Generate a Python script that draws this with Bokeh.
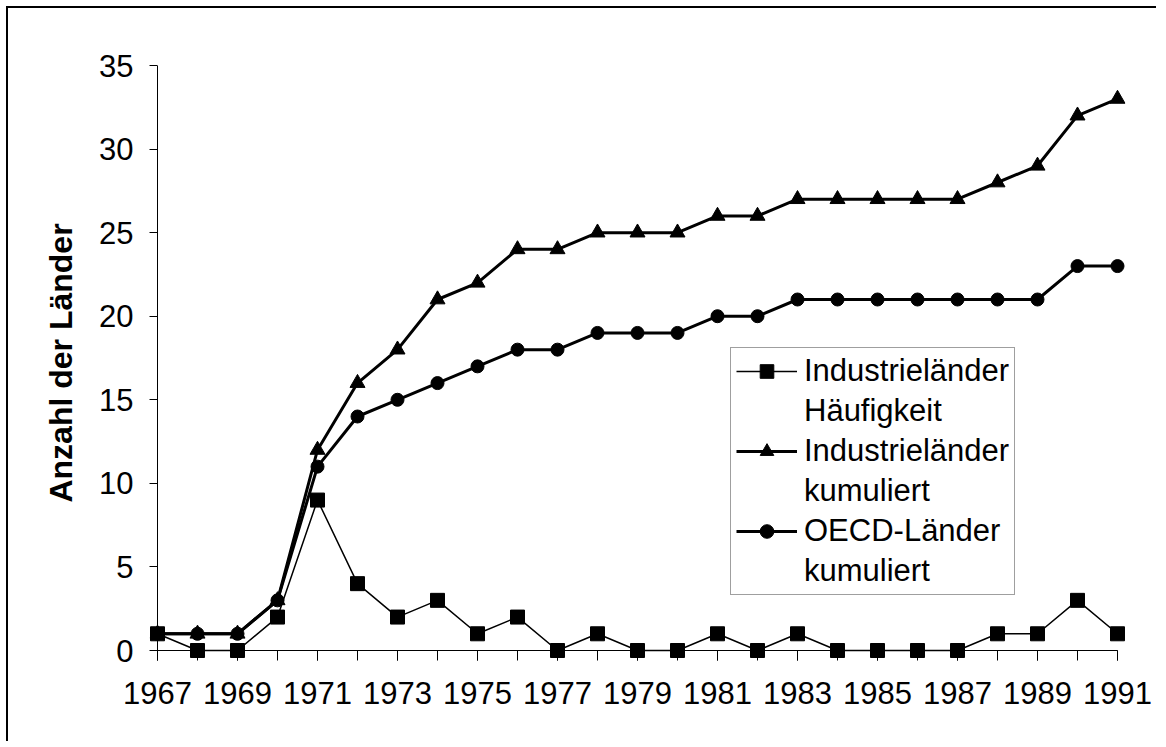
from bokeh.plotting import figure
from bokeh.models import Range1d, FixedTicker, Span, Legend, LegendItem
from bokeh.embed import file_html
from bokeh.resources import INLINE

# ---- data ----
years = list(range(1967, 1992))
haeufigkeit = [1, 0, 0, 2, 9, 4, 2, 3, 1, 2, 0, 1, 0, 0, 1, 0, 1, 0, 0, 0, 0, 1, 1, 3, 1]
industrie_kumuliert = [1, 1, 1, 3, 12, 16, 18, 21, 22, 24, 24, 25, 25, 25, 26, 26, 27, 27, 27, 27, 27, 28, 29, 32, 33]
oecd_kumuliert = [1, 1, 1, 3, 11, 14, 15, 16, 17, 18, 18, 19, 19, 19, 20, 20, 21, 21, 21, 21, 21, 21, 21, 23, 23]
y_ticks = [0, 5, 10, 15, 20, 25, 30, 35]
x_label_years = years[::2]
legend_lines = [("Industrieländer", "Häufigkeit"),
                ("Industrieländer", "kumuliert"),
                ("OECD-Länder", "kumuliert")]
y_title = "Anzahl der Länder"

FONT = "Liberation Sans"
FS = "31px"

# layout (px)
px_per_year = 40.0
px_per_unit = 585.0 / 35.0
pad_left_px, pad_right_px, pad_bottom_px = 8, 8, 10

x_start = years[0] - pad_left_px / px_per_year
x_end = years[-1] + pad_right_px / px_per_year
y_start = y_ticks[0] - pad_bottom_px / px_per_unit
y_end = y_ticks[-1]

frame_w = int(round((x_end - x_start) * px_per_year))
frame_h = int(round((y_end - y_start) * px_per_unit))

mb_left, mb_top = 141, 57
W, H = 1150, 735

p = figure(width=W, height=H, output_backend="svg", toolbar_location=None,
           x_range=Range1d(x_start, x_end), y_range=Range1d(y_start, y_end),
           min_border_left=mb_left, min_border_top=mb_top,
           min_border_right=W - mb_left - frame_w,
           min_border_bottom=H - mb_top - frame_h)
p.styles = {"margin-left": "6px", "margin-top": "6px",
            "border-top": "2px solid black", "border-left": "2px solid black"}
p.grid.visible = False
p.outline_line_color = None
p.background_fill_color = "white"
p.border_fill_color = "white"

# x axis
p.xaxis.ticker = FixedTicker(ticks=x_label_years, minor_ticks=years)
p.xaxis.axis_line_color = None
p.xaxis.major_tick_in = 10
p.xaxis.major_tick_out = 0
p.xaxis.minor_tick_in = 10
p.xaxis.minor_tick_out = 0
p.xaxis.major_tick_line_color = "black"
p.xaxis.minor_tick_line_color = "black"
p.xaxis.major_label_text_font = FONT
p.xaxis.major_label_text_font_size = FS
p.xaxis.major_label_text_color = "black"
p.xaxis.major_label_standoff = 21

# y axis
p.yaxis.ticker = FixedTicker(ticks=y_ticks)
p.yaxis.axis_line_color = None
p.yaxis.major_tick_in = 8
p.yaxis.major_tick_out = 0
p.yaxis.minor_tick_line_color = None
p.yaxis.major_tick_line_color = "black"
p.yaxis.major_label_text_font = FONT
p.yaxis.major_label_text_font_size = FS
p.yaxis.major_label_text_color = "black"
p.yaxis.major_label_standoff = 16
p.yaxis.axis_label = y_title
p.yaxis.axis_label_text_font = FONT
p.yaxis.axis_label_text_font_size = "32px"
p.yaxis.axis_label_text_font_style = "bold"
p.yaxis.axis_label_text_color = "black"
p.yaxis.axis_label_standoff = 17

# axis lines
p.add_layout(Span(location=years[0], dimension="height", line_color="black", line_width=1))
p.segment(x0=[years[0]], y0=[y_ticks[0]], x1=[years[-1]], y1=[y_ticks[0]], line_color="black", line_width=1)

# series
l_oecd = p.line(years, oecd_kumuliert, line_color="black", line_width=3)
s_oecd = p.scatter(years, oecd_kumuliert, marker="circle", size=13, fill_color="black", line_color="black")
l_ind = p.line(years, industrie_kumuliert, line_color="black", line_width=3)
s_ind = p.scatter(years, industrie_kumuliert, marker="triangle", size=15, fill_color="black", line_color="black")
l_hf = p.line(years, haeufigkeit, line_color="black", line_width=1.5)
s_hf = p.scatter(years, haeufigkeit, marker="square", size=14, fill_color="black", line_color="black")

series_renderers = [[l_hf, s_hf], [l_ind, s_ind], [l_oecd, s_oecd]]
items = []
for (first, second), rends in zip(legend_lines, series_renderers):
    items.append(LegendItem(label=first, renderers=rends))
    items.append(LegendItem(label=second, renderers=[]))

legend = Legend(items=items, location=(581, 65))
legend.label_text_font = FONT
legend.label_text_font_size = FS
legend.label_text_color = "black"
legend.glyph_width = 61
legend.glyph_height = 34
legend.label_height = 34
legend.label_width = 202
legend.label_standoff = 7
legend.padding = 5
legend.spacing = 4
legend.margin = 0
legend.border_line_color = "#404040"
legend.border_line_width = 1
legend.background_fill_color = "white"
legend.background_fill_alpha = 1
p.add_layout(legend)

open("out.html", "w").write(file_html(p, INLINE))
